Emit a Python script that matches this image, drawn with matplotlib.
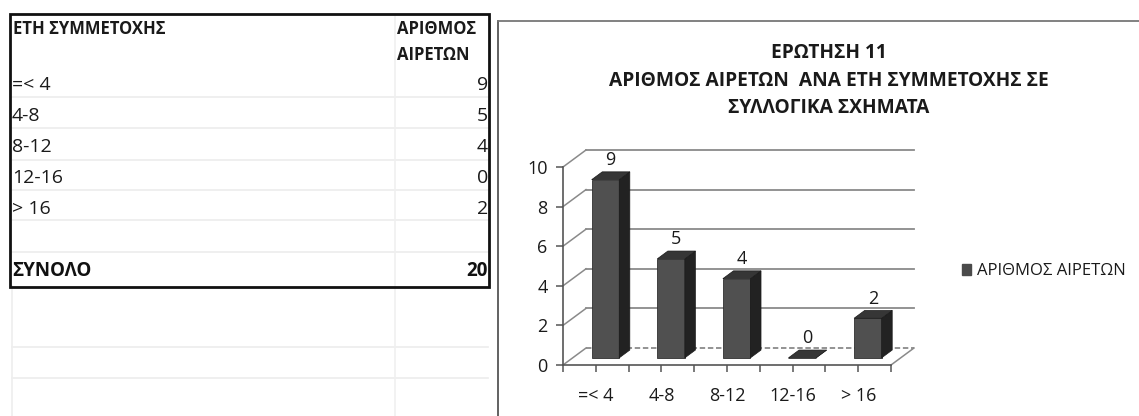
import matplotlib
matplotlib.use("Agg")
import matplotlib.pyplot as plt
from matplotlib.patches import Polygon, Rectangle, Patch
import numpy as np

plt.rcParams['font.family'] = ['Open Sans', 'DejaVu Sans']

# data
table_header = "ΕΤΗ ΣΥΜΜΕΤΟΧΗΣ"
value_header = ["ΑΡΙΘΜΟΣ", "ΑΙΡΕΤΩΝ"]
categories = ["=< 4", "4-8", "8-12", "12-16", "> 16"]
counts = [9, 5, 4, 0, 2]
total_label = "ΣΥΝΟΛΟ"
total = 20
title_lines = ["ΕΡΩΤΗΣΗ 11",
               "ΑΡΙΘΜΟΣ ΑΙΡΕΤΩΝ  ΑΝΑ ΕΤΗ ΣΥΜΜΕΤΟΧΗΣ ΣΕ",
               "ΣΥΛΛΟΓΙΚΑ ΣΧΗΜΑΤΑ"]
series_name = "ΑΡΙΘΜΟΣ ΑΙΡΕΤΩΝ"
y_ticks = [0, 2, 4, 6, 8, 10]

W, H = 1139, 416
fig = plt.figure(figsize=(W / 100, H / 100), dpi=100)
fig.patch.set_facecolor("white")

# background axes in pixel units for the spreadsheet part
bg = fig.add_axes([0, 0, 1, 1])
bg.set_xlim(0, W)
bg.set_ylim(H, 0)
bg.axis("off")

# faint spreadsheet gridlines
for gy in [97, 128, 160, 190, 220, 252, 347, 378]:
    bg.plot([12, 488], [gy, gy], color="#ececec", lw=1.2, zorder=0)
bg.plot([395, 395], [16, 416], color="#f0f0f0", lw=1.2, zorder=0)
bg.plot([12, 12], [286, 416], color="#eeeeee", lw=1.2, zorder=0)

# table border
bg.add_patch(Rectangle((10, 14), 479, 273, fill=False, ec="#111111", lw=2, zorder=2))

# table text
hdr_kw = dict(fontsize=12, fontweight="bold", va="center", ha="left", color="#1a1a1a")
bg.text(13, 29, table_header, **hdr_kw)
bg.text(397, 29, value_header[0], **hdr_kw)
bg.text(397, 55, value_header[1], **hdr_kw)
for i, (c, v) in enumerate(zip(categories, counts)):
    yy = 85 + 31 * i
    bg.text(12, yy, c, fontsize=14, va="center", ha="left", color="#1a1a1a")
    bg.text(488, yy, str(v), fontsize=14, va="center", ha="right", color="#1a1a1a")
bg.text(12, 271, total_label, fontsize=13.5, fontweight="bold", va="center", ha="left",
        color="#111111")
bg.text(488, 271, str(total), fontsize=13.5, fontweight="bold", va="center", ha="right",
        color="#111111")

# chart frame
bg.plot([498, 498], [21, 416], color="#555555", lw=1.3)
bg.plot([498, W], [21, 21], color="#777777", lw=1.3)

# chart title
for k, line in enumerate(title_lines):
    bg.text(829, 53 + 27.5 * k, line, fontsize=13.8, fontweight="bold",
            ha="center", va="center", color="#1a1a1a")

# chart axes: x from -0.5..4.5 on px 563..891, y 0..10 on px 365..167
x0, x1 = 563, 891
y0, y1 = 365, 167
ax = fig.add_axes([x0 / W, (H - y0) / H, (x1 - x0) / W, (y0 - y1) / H])
ax.set_xlim(-0.5, 4.5)
ax.set_ylim(0, 10)
ax.patch.set_alpha(0)

px_x = 5 / (x1 - x0)
px_y = 10 / (y0 - y1)
DX = 23 * px_x
DY = 17 * px_y

grid_c = "#8a8a8a"
# back wall gridlines and left slants
for v in y_ticks:
    ls = (0, (3, 1.5)) if v == 0 else "-"
    ax.plot([-0.5 + DX, 4.5 + DX], [v + DY, v + DY], color=grid_c, lw=1.3,
            ls=ls, clip_on=False, zorder=1)
    ax.plot([-0.5, -0.5 + DX], [v, v + DY], color=grid_c, lw=1.1,
            clip_on=False, zorder=1)
ax.plot([4.5, 4.5 + DX], [0, DY], color=grid_c, lw=1.1, clip_on=False, zorder=1)

# bars
xs = np.arange(len(categories))
f0, f1 = 0.42, 0.88
bw = 0.42
front_c, side_c, top_c = "#505050", "#222222", "#363636"
ax.bar(xs + f0 * DX, counts, width=bw, bottom=f0 * DY, color=front_c,
       edgecolor="#303030", lw=0.6, zorder=3, clip_on=False)
ddx = (f1 - f0) * DX
ddy = (f1 - f0) * DY
for x, v in zip(xs, counts):
    left = x + f0 * DX - bw / 2
    right = x + f0 * DX + bw / 2
    bot = f0 * DY
    top = v + f0 * DY
    side = Polygon([(right, bot), (right + ddx, bot + ddy), (right + ddx, top + ddy),
                    (right, top)], closed=True, fc=side_c, ec="#1a1a1a", lw=0.5,
                   zorder=3, clip_on=False)
    cap = Polygon([(left, top), (right, top), (right + ddx, top + ddy),
                   (left + ddx, top + ddy)], closed=True, fc=top_c, ec="#1a1a1a",
                  lw=0.5, zorder=4, clip_on=False)
    ax.add_patch(side)
    ax.add_patch(cap)
    ax.annotate(str(v), (x + f0 * DX + ddx / 2, top + ddy), xytext=(0, 2),
                textcoords="offset points", ha="center", va="bottom",
                fontsize=13, color="#1a1a1a", annotation_clip=False)

# axes lines and ticks
for s in ["top", "right"]:
    ax.spines[s].set_visible(False)
ax.spines["left"].set_color("#555555")
ax.spines["bottom"].set_color("#555555")
ax.spines["left"].set_linewidth(1.2)
ax.spines["bottom"].set_linewidth(1.2)
ax.set_yticks(y_ticks)
ax.set_yticklabels([str(t) for t in y_ticks], fontsize=13, color="#1a1a1a")
ax.set_xticks(xs)
ax.set_xticklabels(categories, fontsize=13, color="#1a1a1a")
ax.set_xticks(np.arange(-0.5, 4.51, 1.0), minor=True)
ax.tick_params(axis="y", length=5, width=1.1, color="#555555", pad=6)
ax.tick_params(axis="x", which="both", length=5, width=1.1, color="#555555", pad=11)

# legend
fig.legend(handles=[Patch(fc="#4a4a4a", ec="#4a4a4a")], labels=[series_name],
           loc="center left", bbox_to_anchor=(947 / W, 1 - 271 / H), frameon=False,
           handlelength=0.55, handleheight=0.65, handletextpad=0.35, fontsize=12,
           labelcolor="#1a1a1a")

fig.savefig("out.png", dpi=100, facecolor="white")
